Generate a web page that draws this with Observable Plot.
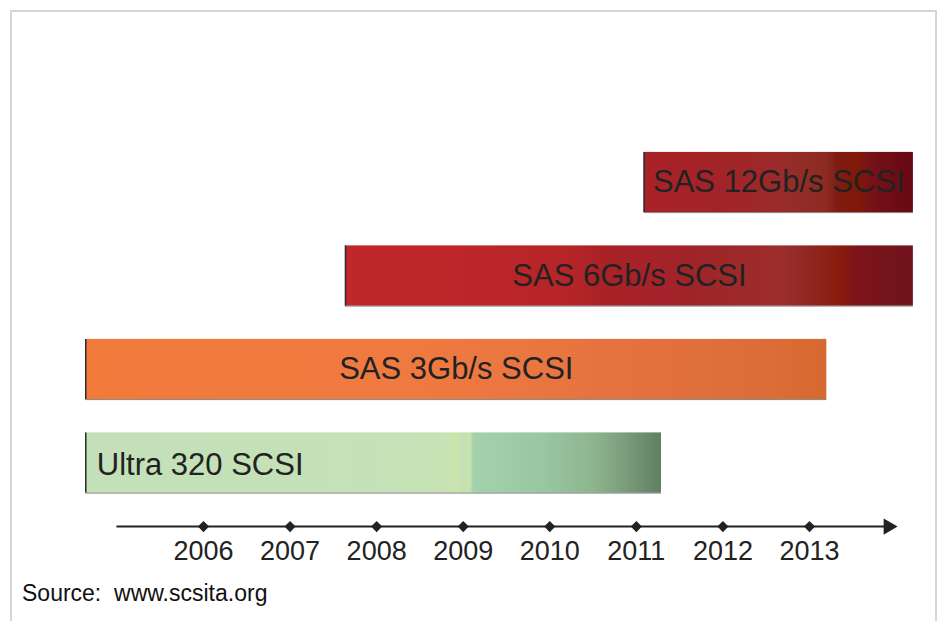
<!DOCTYPE html>
<html>
<head>
<meta charset="utf-8">
<script src="https://cdn.jsdelivr.net/npm/d3@7"></script>
<script src="https://cdn.jsdelivr.net/npm/@observablehq/plot@0.6"></script>
<style>
  html, body { margin: 0; padding: 0; background: #fff; }
  body { width: 942px; height: 621px; position: relative; overflow: hidden; font-family: "Liberation Sans", Arial, sans-serif; }
  #frame { position: absolute; left: 10px; top: 10px; width: 923px; height: 640px; border: 2px solid #d5d5d5; border-bottom: none; }
  #chart { position: absolute; left: 0; top: 0; }
  #caption { position: absolute; left: 22px; top: 580px; font-size: 23px; color: #111; white-space: pre; }
</style>
</head>
<body>
<div id="frame"></div>
<div id="chart"></div>
<div id="caption">Source:  www.scsita.org</div>
<script>
// ---- data ----
const technologies = ["SAS 12Gb/s SCSI", "SAS 6Gb/s SCSI", "SAS 3Gb/s SCSI", "Ultra 320 SCSI"];
const startYear = [2011.09, 2007.64, 2004.64, 2004.64];
const endYear   = [2014.2, 2014.2, 2013.2, 2011.29];
const years = [2006, 2007, 2008, 2009, 2010, 2011, 2012, 2013];
const timelineStart = 2005.0;
const timelineEnd = 2013.9;

// ---- styles ----
const gradientStops = [
  [[0, "#a92227"], [0.3, "#a22428"], [0.5, "#9b2a2a"], [0.55, "#952d29"], [0.68, "#8c2a22"], [0.72, "#7f1c12"], [0.8, "#801806"], [0.84, "#761218"], [1, "#680812"]],
  [[0, "#c0272b"], [0.25, "#bc2529"], [0.4, "#b52528"], [0.45, "#a92226"], [0.57, "#a4232a"], [0.6, "#9f2427"], [0.77, "#9c2d2b"], [0.8, "#932a28"], [0.87, "#8a1c0e"], [0.9, "#7c1418"], [1, "#70141e"]],
  [[0, "#f27a3b"], [0.45, "#ef7a40"], [0.65, "#e87440"], [0.8, "#e1703d"], [0.92, "#db6d38"], [1, "#d6692f"]],
  [[0, "#c3e0b9"], [0.6, "#c5e1b6"], [0.625, "#c8e3b2"], [0.645, "#cae4ad"], [0.655, "#c3e0b4"], [0.668, "#c7e3ae"], [0.674, "#a5d2ac"], [0.8, "#98c6a2"], [0.88, "#8eb58e"], [0.94, "#7b9c7b"], [1, "#5f7f61"]]
];

const bars = technologies.map((name, i) => ({name, row: i, start: startYear[i], end: endYear[i], grad: `url(#grad${i})`}));
const half = 0.322;
const axisRow = 3.68;

function defs() {
  const d = d3.create("svg:defs");
  gradientStops.forEach((stops, i) => {
    const g = d.append("linearGradient").attr("id", `grad${i}`).attr("x1", "0").attr("x2", "1").attr("y1", "0").attr("y2", "0");
    stops.forEach(([o, c]) => g.append("stop").attr("offset", o).attr("stop-color", c));
  });
  return d.node();
}

const chart = Plot.plot({
  width: 942,
  height: 575,
  margin: 0,
  style: {fontFamily: "'Liberation Sans', Arial, sans-serif", background: "transparent", overflow: "visible"},
  x: {domain: [2006, 2013], range: [203, 809], axis: null},
  y: {domain: [0, 3], range: [182, 462.5], axis: null},
  color: {type: "identity"},
  marks: [
    defs,
    Plot.rect(bars, {x1: "start", x2: "end", y1: d => d.row - half, y2: d => d.row + half, fill: "grad"}),
    Plot.ruleX(bars, {x: "start", y1: d => d.row - half, y2: d => d.row + half, stroke: "#2a2a2a", strokeWidth: 1.5}),
    Plot.ruleY(bars, {y: d => d.row + half, x1: "start", x2: "end", stroke: "#333", strokeWidth: 1, strokeOpacity: 0.6}),
    Plot.text(bars.filter(d => d.row < 3), {x: d => (d.start + d.end) / 2, y: "row", text: "name", fontSize: 31, fill: "#222", textAnchor: "middle"}),
    Plot.text(bars.filter(d => d.row === 3), {x: "start", y: "row", text: "name", fontSize: 31, fill: "#222", textAnchor: "start", dx: 11, dy: 2}),
    Plot.ruleY([axisRow], {x1: timelineStart, x2: timelineEnd, stroke: "#222", strokeWidth: 2}),
    Plot.dot(years, {x: d => d, y: () => axisRow, symbol: "diamond2", r: 5, fill: "#222", stroke: "none"}),
    Plot.dot([2013.91], {x: d => d, y: () => axisRow, symbol: "triangle", rotate: 90, r: 6, fill: "#222", stroke: "none"}),
    Plot.text(years, {x: d => d, y: () => axisRow, text: d => String(d), dy: 25, fontSize: 27, fill: "#222"})
  ]
});
document.getElementById("chart").appendChild(chart);
</script>
</body>
</html>
